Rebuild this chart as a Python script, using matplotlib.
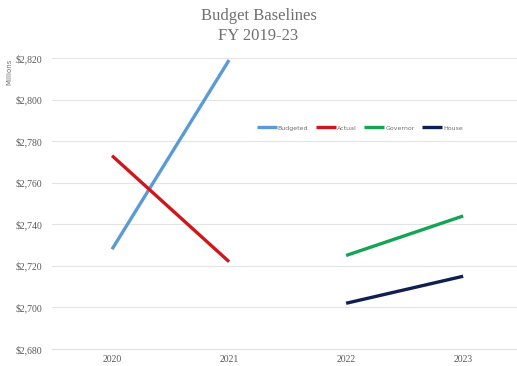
import matplotlib
matplotlib.use("Agg")
import matplotlib.pyplot as plt
from matplotlib.ticker import FuncFormatter

years = ["2020", "2021", "2022", "2023"]
budgeted = [2728, 2819, None, None]
actual = [2773, 2722, None, None]
governor = [None, None, 2725, 2744]
house = [None, None, 2702, 2715]

series = [
    ("Budgeted", budgeted, "#5b9bd5"),
    ("Actual", actual, "#d0161b"),
    ("Governor", governor, "#13a454"),
    ("House", house, "#0f1f4f"),
]

fig = plt.figure(figsize=(5.17, 3.66), dpi=100)
ax = fig.add_axes([52/517, 17/366, 465/517, 291/366])

for name, vals, color in series:
    xs = [i for i, v in enumerate(vals) if v is not None]
    ys = [v for v in vals if v is not None]
    ax.plot(xs, ys, color=color, lw=2.4, label=name, clip_on=False, solid_capstyle="butt")

ax.set_ylim(2680, 2820)
ax.set_yticks(range(2680, 2821, 20))
ax.yaxis.set_major_formatter(FuncFormatter(lambda v, p: "${:,.0f}".format(v)))
ax.set_xlim(-0.513, 3.46)
ax.set_xticks(range(len(years)))
ax.set_xticklabels(years)
ax.grid(axis="y", color="#e4e4e4", lw=0.8)
ax.set_axisbelow(True)
for s in ["top", "right", "left"]:
    ax.spines[s].set_visible(False)
ax.spines["bottom"].set_color("#e0e0e0")
ax.tick_params(length=0, labelsize=7, labelcolor="#595959")
ax.tick_params(axis="y", pad=7)
ax.tick_params(axis="x", pad=4)
for lbl in ax.get_xticklabels() + ax.get_yticklabels():
    lbl.set_family("Liberation Serif")

fig.text(0.5, 1 - 8/366, "Budget Baselines\nFY 2019-23", ha="center", va="top",
         fontsize=12, color="#707070", family="Liberation Serif", linespacing=1.35)
fig.text(9/517, 1 - 72/366, "Millions", rotation=90, ha="center", va="center",
         fontsize=5, color="#707070")

leg = ax.legend(loc="center", bbox_to_anchor=(360/517, 1 - 128/366),
                bbox_transform=fig.transFigure, ncol=4, frameon=False,
                fontsize=4.5, handlelength=3.2, handletextpad=0.2, columnspacing=1.2)
for t in leg.get_texts():
    t.set_color("#707070")

fig.savefig("out.png", dpi=100)
